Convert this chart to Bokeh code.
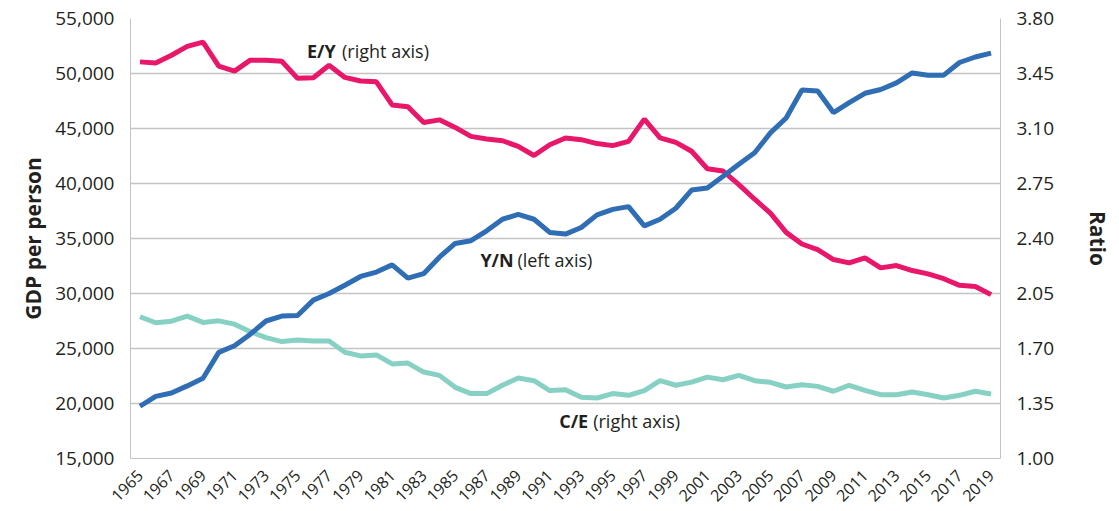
from bokeh.plotting import figure
from bokeh.models import (Range1d, LinearAxis, FixedTicker, NumeralTickFormatter,
                          Label)
from bokeh.embed import file_html
from bokeh.resources import INLINE

years = list(range(1965, 2020))

# Y/N : GDP per person (left axis)
gdp_per_person = [19750, 20650, 20950, 21600, 22300, 24650, 25250, 26300, 27500, 27950,
                  28000, 29400, 30000, 30750, 31550, 31950, 32600, 31400, 31800, 33300,
                  34550, 34800, 35700, 36750, 37200, 36750, 35550, 35400, 36000, 37150,
                  37650, 37900, 36150, 36750, 37750, 39400, 39600, 40650, 41750, 42800,
                  44600, 45950, 48500, 48400, 46450, 47350, 48200, 48550, 49150, 50050,
                  49850, 49850, 51000, 51500, 51850]

# E/Y : ratio (right axis)
ey_ratio = [3.524, 3.517, 3.566, 3.623, 3.650, 3.497, 3.465, 3.535, 3.535, 3.528,
            3.419, 3.423, 3.503, 3.425, 3.402, 3.397, 3.250, 3.239, 3.138, 3.155,
            3.107, 3.050, 3.033, 3.022, 2.986, 2.928, 2.997, 3.040, 3.029, 3.004,
            2.991, 3.018, 3.160, 3.040, 3.012, 2.955, 2.844, 2.829, 2.743, 2.650,
            2.561, 2.439, 2.365, 2.329, 2.266, 2.245, 2.277, 2.213, 2.228, 2.196,
            2.175, 2.144, 2.102, 2.095, 2.043]

# C/E : ratio (right axis)
ce_ratio = [1.902, 1.864, 1.874, 1.906, 1.866, 1.876, 1.855, 1.807, 1.769, 1.744,
            1.754, 1.748, 1.748, 1.676, 1.653, 1.659, 1.602, 1.607, 1.550, 1.529,
            1.453, 1.413, 1.413, 1.466, 1.512, 1.495, 1.432, 1.438, 1.390, 1.385,
            1.413, 1.402, 1.432, 1.495, 1.466, 1.486, 1.518, 1.501, 1.529, 1.495,
            1.485, 1.455, 1.469, 1.459, 1.428, 1.466, 1.434, 1.406, 1.406, 1.423,
            1.406, 1.385, 1.402, 1.428, 1.410]

left_ticks = list(range(15000, 55001, 5000))
right_ticks = [1.00, 1.35, 1.70, 2.05, 2.40, 2.75, 3.10, 3.45, 3.80]
x_ticks = list(range(1965, 2020, 2))

FONT = "Open Sans"
TXT = "#231f20"
GRID = "#c4c4c4"
BLUE = "#2f6db5"
PINK = "#e8176a"
TEAL = "#86d1c3"

p = figure(width=1115, height=509, output_backend="svg", toolbar_location=None,
           x_range=Range1d(1964.4, 2019.6), y_range=Range1d(15000, 55000),
           min_border_left=130, min_border_right=92, min_border_top=18,
           min_border_bottom=48)
p.outline_line_color = None
p.background_fill_color = "white"
p.extra_y_ranges = {"ratio": Range1d(1.0, 3.8)}

# axes
p.xaxis.ticker = FixedTicker(ticks=x_ticks)
p.xaxis.major_label_orientation = 0.785
p.xaxis.major_label_text_font = FONT
p.xaxis.major_label_text_font_size = "16px"
p.xaxis.major_label_text_color = TXT
p.xaxis.axis_line_color = GRID
p.xaxis.major_tick_line_color = None
p.xaxis.minor_tick_line_color = None
p.xaxis.major_label_standoff = 8

p.yaxis.ticker = FixedTicker(ticks=left_ticks)
p.yaxis.formatter = NumeralTickFormatter(format="0,0")
p.yaxis.axis_label = "GDP per person"
p.yaxis.axis_label_text_font = FONT
p.yaxis.axis_label_text_font_style = "bold"
p.yaxis.axis_label_text_font_size = "21px"
p.yaxis.axis_label_text_color = TXT
p.yaxis.major_label_text_font = FONT
p.yaxis.major_label_text_font_size = "19px"
p.yaxis.major_label_text_color = TXT
p.yaxis.axis_line_color = GRID
p.yaxis.major_tick_line_color = None
p.yaxis.minor_tick_line_color = None
p.yaxis.major_label_standoff = 10

ra = LinearAxis(y_range_name="ratio", ticker=FixedTicker(ticks=right_ticks),
                formatter=NumeralTickFormatter(format="0.00"))
ra.axis_label = "Ratio"
ra.axis_label_text_font = FONT
ra.axis_label_text_font_style = "bold"
ra.axis_label_text_font_size = "21px"
ra.axis_label_text_color = TXT
ra.axis_label_standoff = 27
ra.major_label_text_font = FONT
ra.major_label_text_font_size = "19px"
ra.major_label_text_color = TXT
ra.axis_line_color = GRID
ra.major_tick_line_color = None
ra.minor_tick_line_color = None
ra.major_label_standoff = 10
p.add_layout(ra, "right")

p.xgrid.grid_line_color = None
p.ygrid.ticker = FixedTicker(ticks=left_ticks)
p.ygrid.grid_line_color = GRID
p.ygrid.grid_line_width = 1.5

# lines
p.line(years, ce_ratio, y_range_name="ratio", line_color=TEAL, line_width=5)
p.line(years, ey_ratio, y_range_name="ratio", line_color=PINK, line_width=5)
p.line(years, gdp_per_person, line_color=BLUE, line_width=5)

# annotations
def ann(x, y, bold, rest, offset, rng="default"):
    p.add_layout(Label(x=x, y=y, y_range_name=rng, text=bold, text_font=FONT,
                       text_font_style="bold", text_font_size="18px",
                       text_color=TXT, text_baseline="middle"))
    p.add_layout(Label(x=x, y=y, y_range_name=rng, text=rest, text_font=FONT,
                       text_font_size="18px", text_color=TXT,
                       text_baseline="middle", x_offset=offset))

ann(1975.6, 3.595, "E/Y", "(right axis)", 35, "ratio")
ann(1986.6, 33075, "Y/N", "(left axis)", 37)
ann(1991.6, 1.238, "C/E", "(right axis)", 34, "ratio")

open("out.html", "w").write(file_html(p, INLINE))
